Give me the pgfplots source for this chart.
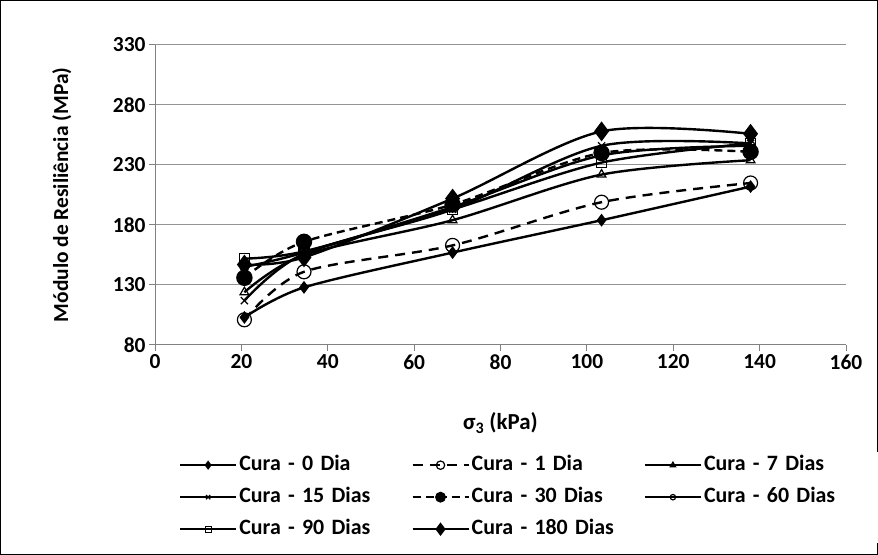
\documentclass[border=0pt]{standalone}
\usepackage{fontspec}
\setmainfont{Carlito}[BoldFont={Carlito Bold}]
\usepackage{pgfplots}
\pgfplotsset{compat=1.18}
\begin{document}
\begin{tikzpicture}[x=1bp,y=1bp]
\useasboundingbox (0,0) rectangle (878,555);
\draw[black, line width=1bp] (0.5,0.5) rectangle (877.5,554.5);
\begin{axis}[at={(155bp,210bp)}, anchor=south west, scale only axis,
 width=691bp, height=300bp,
 xmin=0, xmax=160, ymin=80, ymax=330,
 xtick={0,20,...,160}, ytick={80,130,...,330},
 axis lines*=left,
 axis line style={gray, line width=1bp},
 tick style={gray, line width=1bp},
 major tick length=6bp, tick align=outside,
 ymajorgrids, grid style={gray!85, line width=1bp},
 tick label style={font=\bfseries\fontsize{21.5}{24}\selectfont},
 /pgf/number format/assume math mode=true,
 xlabel={σ\textsubscript{3} (kPa)},
 ylabel={Módulo de Resiliência (MPa)},
 label style={font=\bfseries\fontsize{21.5}{24}\selectfont},
 xlabel style={at={(axis description cs:0.5,-0.26)}, anchor=center, font=\bfseries\fontsize{23}{26}\selectfont},
 ylabel style={at={(axis description cs:-0.135,0.5)}, anchor=center},
 every axis plot/.append style={line width=2.4bp, black, smooth, tension=0.5},
 legend columns=3,
 legend style={at={(axis description cs:0.030,-0.355)}, anchor=north west, draw=none,
   font=\bfseries\fontsize{22}{24}\selectfont,
   nodes={text width=170bp, anchor=west, inner sep=2bp, text height=15bp, text depth=4bp},
   column sep=0bp, row sep=9bp},
 legend image code/.code={\draw[mark repeat=2,mark phase=2,#1, every mark/.append style={scale=0.6}] plot coordinates {(0bp,0bp)(28bp,0bp)(56bp,0bp)};},
 clip=false,
]
\addplot[solid, mark=diamond*, mark size=4.5bp] coordinates {(20.7,103)(34.5,128)(68.9,157)(103.4,184)(137.9,212)};
\addlegendentry{Cura - 0 Dia}
\addplot[dash pattern=on 10bp off 7bp, mark=o, mark size=7bp, mark options={solid, line width=1.2bp}] coordinates {(20.7,101)(34.5,141)(68.9,163)(103.4,199)(137.9,215)};
\addlegendentry{Cura - 1 Dia}
\addplot[solid, mark=triangle, mark size=5bp, mark options={line width=1.2bp, fill=white}] coordinates {(20.7,124)(34.5,155)(68.9,184)(103.4,222)(137.9,234)};
\addlegendentry{Cura - 7 Dias}
\addplot[solid, mark=x, mark size=5bp, mark options={line width=1.2bp}] coordinates {(20.7,117)(34.5,156)(68.9,193)(103.4,246)(137.9,248)};
\addlegendentry{Cura - 15 Dias}
\addplot[dash pattern=on 8bp off 5bp, mark=*, mark size=7bp, mark options={solid}] coordinates {(20.7,136)(34.5,166)(68.9,197)(103.4,240)(137.9,241)};
\addlegendentry{Cura - 30 Dias}
\addplot[solid, mark=o, mark size=4.5bp, mark options={line width=1.2bp}] coordinates {(20.7,145)(34.5,157)(68.9,195)(103.4,238)(137.9,246)};
\addlegendentry{Cura - 60 Dias}
\addplot[solid, mark=square, mark size=5bp, mark options={line width=1.2bp}] coordinates {(20.7,152)(34.5,158)(68.9,193)(103.4,232)(137.9,248)};
\addlegendentry{Cura - 90 Dias}
\addplot[solid, mark=diamond*, mark size=8bp] coordinates {(20.7,147)(34.5,153)(68.9,202)(103.4,258)(137.9,256)};
\addlegendentry{Cura - 180 Dias}
\end{axis}
\end{tikzpicture}
\end{document}
